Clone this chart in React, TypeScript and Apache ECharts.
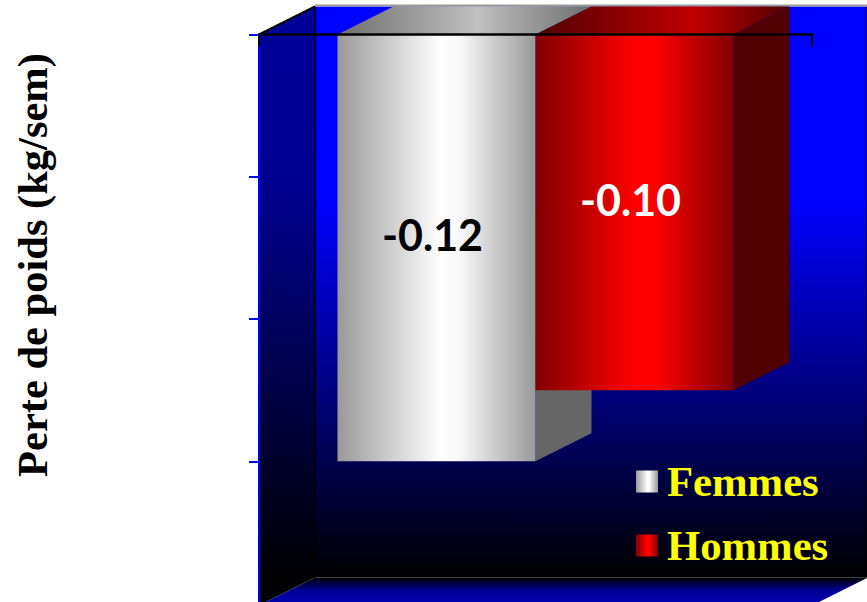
import React, { useEffect, useRef } from "react";
import * as echarts from "echarts";

const categories = ["Perte de poids"];
const femmesValues = [-0.12];
const hommesValues = [-0.1];
const seriesNames = ["Femmes", "Hommes"];
const axisTitle = "Perte de poids (kg/sem)";

const DEPTH_X = 56;
const DEPTH_Y = 28;
const BAR_WIDTH = 198;

const vertical = (stops: [number, string][]) => ({
  type: "linear", x: 0, y: 0, x2: 0, y2: 1,
  colorStops: stops.map(([offset, color]) => ({ offset, color })),
});
const horizontal = (stops: [number, string][]) => ({
  type: "linear", x: 0, y: 0, x2: 1, y2: 0,
  colorStops: stops.map(([offset, color]) => ({ offset, color })),
});

const silverFront = horizontal([[0, "#999999"], [0.52, "#ffffff"], [0.62, "#f8f8f8"], [1, "#999999"]]);
const redFront = horizontal([[0, "#800000"], [0.5, "#ff0000"], [0.6, "#ff0000"], [1, "#800000"]]);
const silverTop = horizontal([[0, "#6e6e6e"], [0.55, "#c0c0c0"], [1, "#6e6e6e"]]);
const redTop = horizontal([[0, "#500000"], [0.62, "#c00000"], [1, "#500000"]]);

// Back wall, side wall and floor of the 3D box around the plot area.
const renderBox = (params: any) => {
  const { x, y, width, height } = params.coordSys;
  const bottom = y + height;
  const backX = x + DEPTH_X;
  const backY = y - DEPTH_Y;
  const backBottom = bottom - DEPTH_Y + 2;
  const rightX = x + width + DEPTH_X;
  return {
    type: "group",
    children: [
      {
        type: "rect",
        shape: { x: backX, y: backY, width: rightX - backX, height: backBottom - backY },
        style: { fill: vertical([[0, "#0000ff"], [0.34, "#0000ff"], [1, "#000000"]]) },
      },
      {
        type: "polygon",
        shape: { points: [[x, y], [backX, backY], [backX, backBottom], [x, bottom + 2]] },
        style: { fill: vertical([[0, "#000099"], [0.3, "#000090"], [0.96, "#000000"], [1, "#000000"]]) },
      },
      {
        type: "polygon",
        shape: { points: [[backX, backBottom], [rightX, backBottom], [x + width, bottom + 2], [x, bottom + 2]] },
        style: { fill: vertical([[0, "#000000"], [0.45, "#000090"], [1, "#0000b8"]]) },
      },
      {
        type: "polyline",
        shape: { points: [[x, y], [backX, backY]] },
        style: { stroke: "#000000", lineWidth: 2, fill: "none" },
      },
      {
        type: "line",
        shape: { x1: backX, y1: backY, x2: backX, y2: backBottom },
        style: { stroke: "#000000", lineWidth: 1.5 },
      },
      {
        type: "line",
        shape: { x1: rightX - 1, y1: backY, x2: rightX - 1, y2: backBottom },
        style: { stroke: "#000000", lineWidth: 1 },
      },
      {
        type: "line",
        shape: { x1: backX, y1: backY - 1, x2: rightX, y2: backY - 1 },
        style: { stroke: "#9a9a9a", lineWidth: 2 },
      },
    ],
  };
};

// Top and side faces extruded from a bar's front face.
const depthRenderer = (side: -1 | 1, topFill: any, sideFill: string) => (_: any, api: any) => {
  const [cx, y0] = api.coord([0, 0]);
  const [, y1] = api.coord([0, api.value(1)]);
  const left = side < 0 ? cx - BAR_WIDTH : cx;
  const right = left + BAR_WIDTH;
  return {
    type: "group",
    children: [
      {
        type: "polygon",
        shape: { points: [[left, y0], [left + DEPTH_X, y0 - DEPTH_Y], [right + DEPTH_X, y0 - DEPTH_Y], [right, y0]] },
        style: { fill: topFill },
      },
      {
        type: "polygon",
        shape: { points: [[right, y0], [right + DEPTH_X, y0 - DEPTH_Y], [right + DEPTH_X, y1 - DEPTH_Y], [right, y1]] },
        style: { fill: sideFill },
      },
    ],
  };
};

const barLabel = (color: string) => ({
  show: true,
  position: "inside",
  offset: [-4, -13],
  color,
  fontFamily: "Lato",
  fontWeight: "bold",
  fontSize: 43,
  formatter: (p: any) => Number(p.value).toFixed(2),
});

export default function App() {
  const ref = useRef<HTMLDivElement>(null);

  useEffect(() => {
    const chart = echarts.init(ref.current!, undefined, { renderer: "svg" });
    chart.setOption({
      animation: false,
      backgroundColor: "#ffffff",
      grid: { left: 259, top: 34.5, width: 553, height: 569, outerBoundsMode: "none" },
      legend: {
        data: seriesNames,
        orient: "vertical",
        left: 636,
        top: 458,
        padding: 0,
        icon: "rect",
        itemWidth: 22,
        itemHeight: 22,
        itemGap: 17,
        textStyle: {
          color: "#ffff00",
          fontFamily: "Liberation Serif",
          fontWeight: "bold",
          fontSize: 42.7,
          lineHeight: 47,
          padding: [0, 0, 0, 4],
        },
        selectedMode: false,
      },
      xAxis: {
        type: "category",
        data: categories,
        position: "top",
        z: 10,
        axisLine: { show: true, lineStyle: { color: "#000000", width: 2.5 } },
        axisTick: { show: true, inside: true, length: 11, lineStyle: { color: "#000000", width: 2 } },
        axisLabel: { show: false },
      },
      yAxis: {
        type: "value",
        z: 10,
        min: -0.16,
        max: 0,
        interval: 0.04,
        name: axisTitle,
        nameLocation: "middle",
        nameGap: 205,
        nameTextStyle: {
          color: "#000000",
          fontFamily: "Liberation Serif",
          fontWeight: "bold",
          fontSize: 42.5,
          padding: [0, 0, 0, 108],
        },
        axisLine: { show: true, lineStyle: { color: "#0000ff", width: 2 } },
        axisTick: { show: true, length: 10, lineStyle: { color: "#0000ff", width: 2 } },
        axisLabel: { show: false },
        splitLine: { show: false },
      },
      series: [
        {
          type: "custom",
          name: "box",
          silent: true,
          data: [[0, 0]],
          renderItem: renderBox,
        },
        {
          type: "custom",
          name: "femmes-depth",
          silent: true,
          data: [[0, femmesValues[0]]],
          encode: { x: 0, y: 1 },
          renderItem: depthRenderer(-1, silverTop, "#666666"),
        },
        {
          type: "bar",
          name: seriesNames[0],
          data: femmesValues,
          barWidth: BAR_WIDTH,
          barGap: "0%",
          itemStyle: { color: silverFront },
          label: barLabel("#000000"),
        },
        {
          type: "custom",
          name: "hommes-depth",
          silent: true,
          data: [[0, hommesValues[0]]],
          encode: { x: 0, y: 1 },
          renderItem: depthRenderer(1, redTop, "#500000"),
        },
        {
          type: "bar",
          name: seriesNames[1],
          data: hommesValues,
          barWidth: BAR_WIDTH,
          barGap: "0%",
          itemStyle: { color: redFront },
          label: barLabel("#ffffff"),
        },
      ],
    });
    return () => chart.dispose();
  }, []);

  return <div ref={ref} style={{ position: "fixed", left: 0, top: 0, width: 867, height: 602 }} />;
}
